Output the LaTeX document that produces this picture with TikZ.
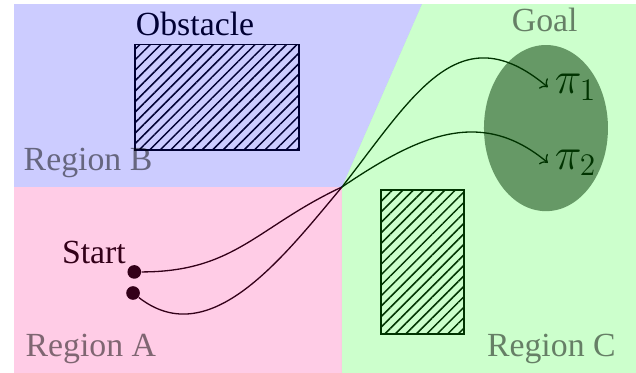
\documentclass[tikz,border=0pt]{standalone}
\usepackage{fontspec}
\setmainfont{Liberation Serif}
\usetikzlibrary{arrows.meta,patterns.meta}
\definecolor{regA}{rgb}{1,0,0.5}
\definecolor{regB}{rgb}{0,0,1}
\definecolor{regC}{rgb}{0,1,0}
\tikzset{
  txt/.style       = {font=\fontsize{15.5}{18}\selectfont},
  regionlabel/.style = {txt,text opacity=0.5,inner sep=0pt},
  dot/.style       = {circle,fill,inner sep=0pt,minimum size=0.22cm},
  hatch/.style     = {draw,line width=0.8pt,
                      pattern={Lines[angle=45,distance=3.4pt,line width=0.7pt]}},
  traj/.style      = {->,line width=0.6pt},
  tint/.style      = {fill opacity=0.2},
}
\begin{document}
\begin{tikzpicture}
  \useasboundingbox (-0.226,0) rectangle (10.032,6.016);
  % obstacles
  \node[txt,inner sep=0pt,anchor=base] (obstxt) at (2.92,5.45) {Obstacle};
  \draw[hatch] (1.95,3.6) rectangle (4.6,5.3);
  \draw[hatch] (5.92,0.63) rectangle (7.26,2.95);
  % goal set
  \fill[gray] (8.58,3.95) ellipse (1.0 and 1.34);
  \node[font=\fontsize{20}{24}\selectfont,anchor=west,inner sep=3pt] (pi1) at (8.61,4.61) {$\pi_1$};
  \node[font=\fontsize{20}{24}\selectfont,anchor=west,inner sep=3pt] (pi2) at (8.61,3.39) {$\pi_2$};
  % start states
  \node[dot] (start1) at (1.94,1.63) {};
  \node[dot] (start2) at (1.92,1.29) {};
  \node[txt,inner sep=0pt,anchor=base east] (starttxt) at (1.81,1.77) {Start};
  \coordinate (cross) at (5.29,3.0);
  \draw[traj] (start1) to[out=0,in=205,looseness=1.1] (cross)
                       to[out=34,in=140,looseness=1.1] (pi2.west);
  \draw[traj] (start2) to[out=-38,in=230] (cross)
                       to[out=52,in=140,looseness=1.3] (pi1.west);
  % tinted regions on top
  \fill[regB,tint] (0,3) -- (0,5.95) -- (6.58,5.95) -- (cross) -- cycle;
  \fill[regA,tint] (0,0) rectangle (cross);
  \fill[regC,tint] (cross) -- (6.58,5.95) -- (10.032,5.95) -- (10.032,0)
                   -- (5.29,0) -- cycle;
  % region labels
  \node[regionlabel,anchor=base] (goal) at (8.56,5.5) {Goal};
  \node[regionlabel,anchor=base west] (regb) at (0.15,3.26) {Region B};
  \node[regionlabel,anchor=base west] (rega) at (0.18,0.27) {Region A};
  \node[regionlabel,anchor=base east] (regc) at (9.71,0.27) {Region C};
\end{tikzpicture}
\end{document}
